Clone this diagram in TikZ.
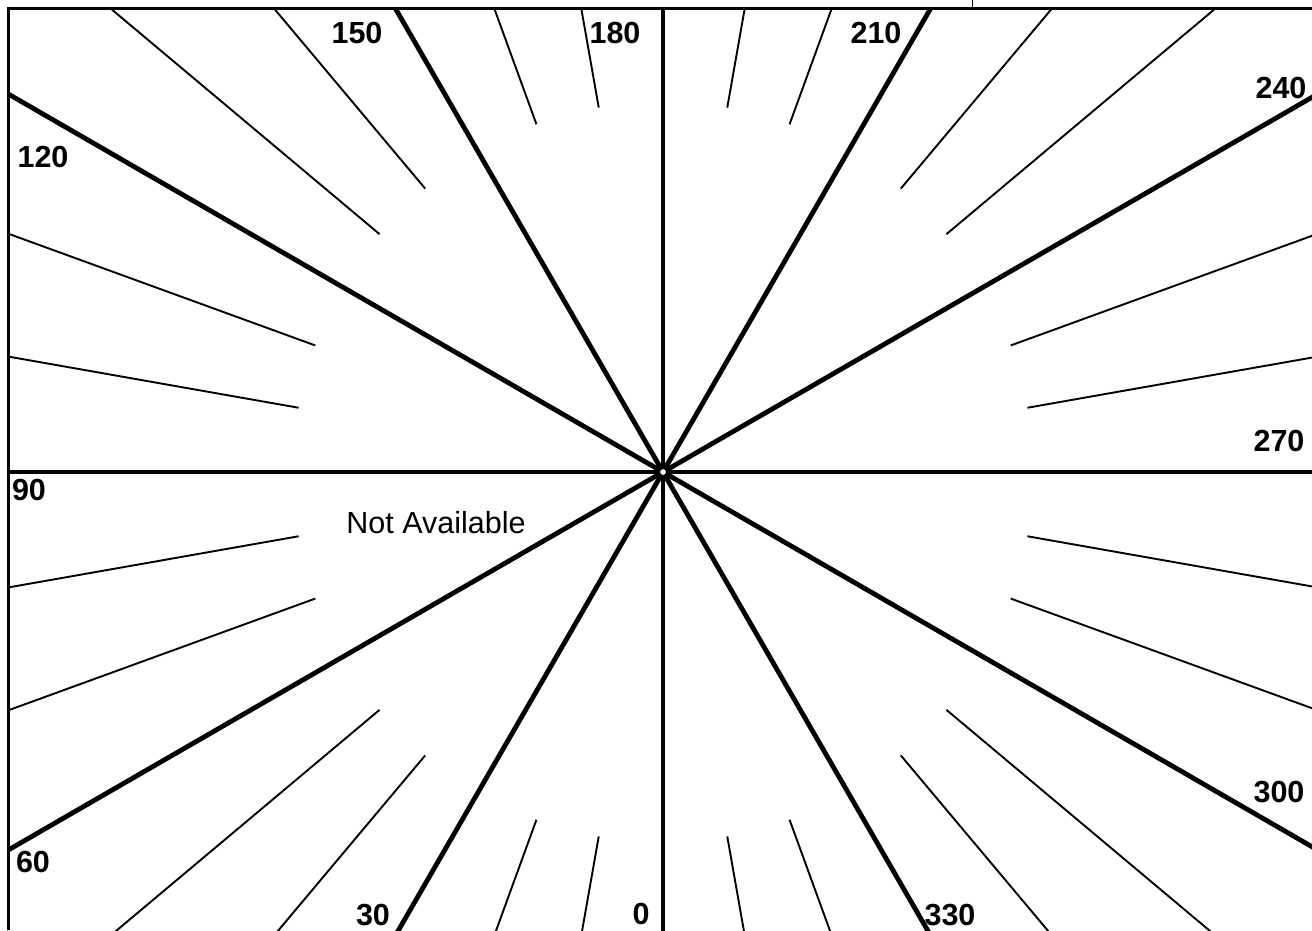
\documentclass[tikz,border=0pt]{standalone}
\usepackage{fontspec}
\setmainfont{Liberation Sans}
\usetikzlibrary{calc}
\begin{document}
\begin{tikzpicture}[x=1pt,y=-1pt,
  spoke/.style={line width=4.8pt},
  ray/.style={line width=1.9pt},
  frameline/.style={line width=3pt},
  lbl/.style={font=\fontsize{30.5}{36}\selectfont\bfseries, inner sep=0pt},
  txt/.style={font=\fontsize{30.5}{36}\selectfont, inner sep=0pt}]
\useasboundingbox (0,0) rectangle (1312,930);
\coordinate (c) at (663,472);
\begin{scope}
  \clip (8,8) rectangle (1312,930);
  \foreach \d in {0,30,...,330}
    \draw[spoke] (c) -- ($(c)+({\d+90}:1200)$);
  \foreach \d in {10,20,40,50,70,80,100,110,130,140,160,170,190,200,220,230,250,260,280,290,310,320,340,350}
    \draw[ray] ($(c)+({\d+90}:370)$) -- ($(c)+({\d+90}:1200)$);
\end{scope}
\draw[frameline] (8,930) -- (8,8) -- (1312,8);
\draw[line width=1pt] (972,0) -- (972,8);
\draw[line width=1pt, fill=white] (c) circle[radius=3.5pt];
\node[lbl] (l150) at (357,33) {150};
\node[lbl] (l180) at (615,33) {180};
\node[lbl] (l210) at (876,33) {210};
\node[lbl] (l240) at (1281,88) {240};
\node[lbl] (l120) at (43,157) {120};
\node[lbl] (l270) at (1279,441) {270};
\node[lbl] (l90) at (29,490) {90};
\node[lbl] (l60) at (33,862) {60};
\node[lbl] (l30) at (373,915) {30};
\node[lbl] (l0) at (641,914) {0};
\node[lbl] (l330) at (950,915) {330};
\node[lbl] (l300) at (1279,792) {300};
\node[txt] (na) at (436,523) {Not Available};
\end{tikzpicture}
\end{document}
